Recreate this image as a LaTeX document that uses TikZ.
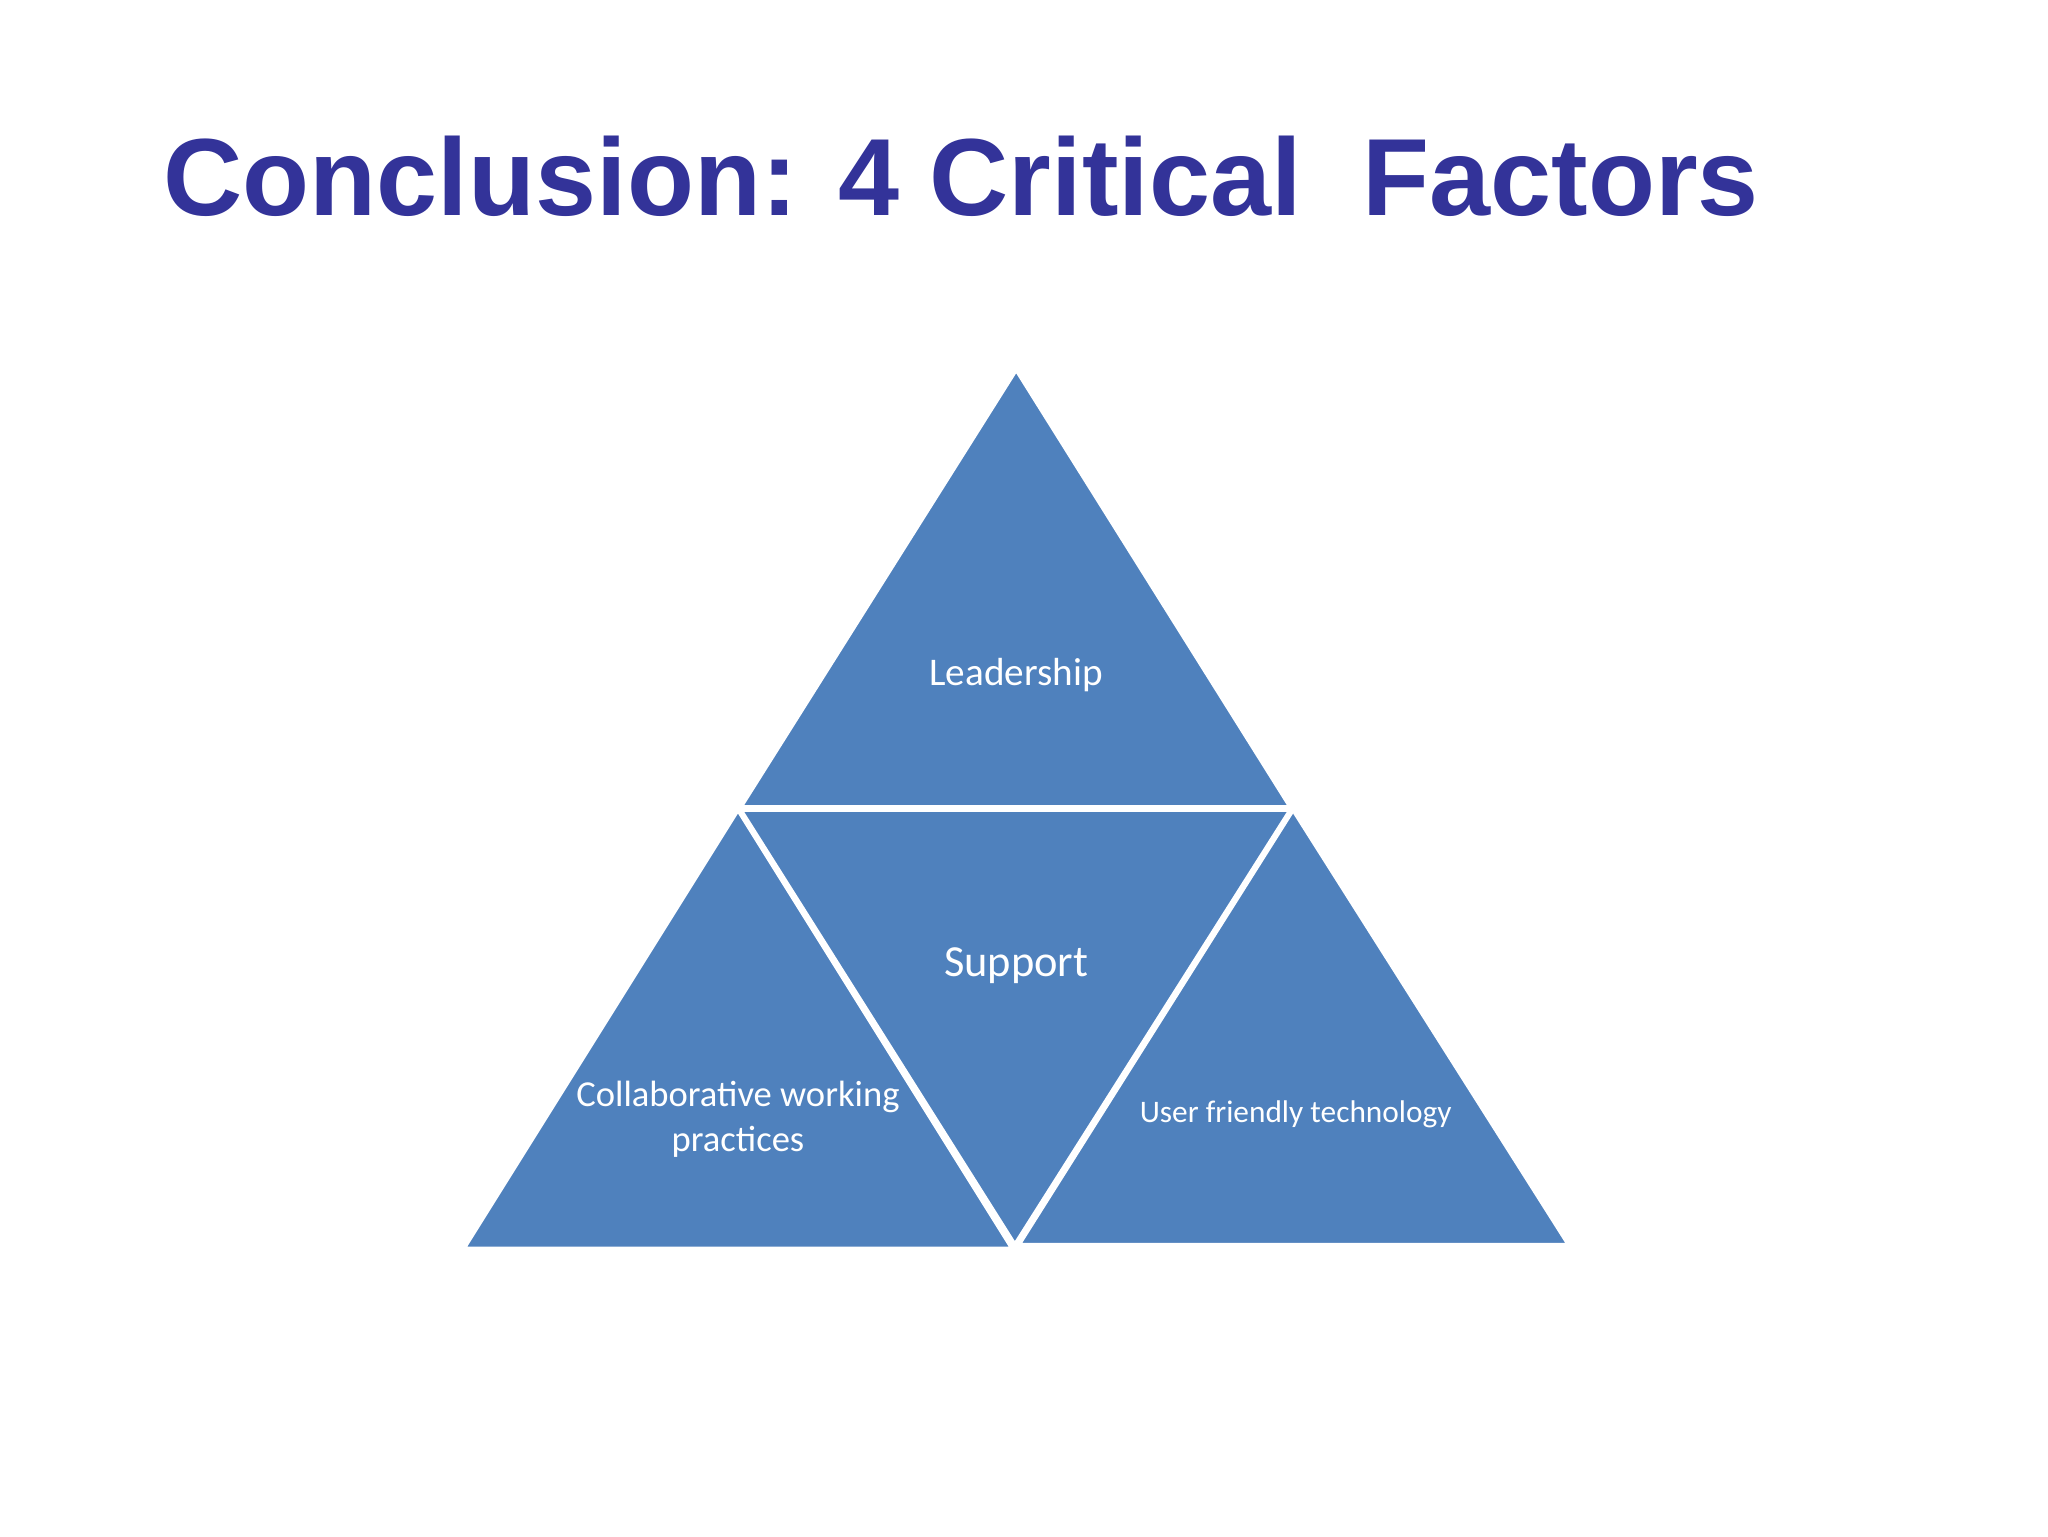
\documentclass[tikz,border=0pt]{standalone}
\usepackage{fontspec}
\setmainfont{Carlito}
\newfontfamily\titlefont{Liberation Sans}
\definecolor{tri}{HTML}{4F81BD}
\definecolor{ttl}{HTML}{333399}
\begin{document}
\begin{tikzpicture}[x=1pt,y=-1pt,
  tri/.style={fill=tri,draw=white,line width=3pt,line join=miter},
  lab/.style={text=white,align=center}]
\useasboundingbox (0,0) rectangle (1568,1176);
\fill[white] (0,0) rectangle (1568,1176);
\node[anchor=base,text=ttl,font=\titlefont\bfseries\fontsize{84}{90}\selectfont] (title) at (736,165) {Conclusion: 4 Critical\ \ Factors};
\draw[tri] (778,283) -- (988,618) -- (567,618) -- cycle;
\draw[tri] (565,620) -- (775,956) -- (355,956) -- cycle;
\draw[tri] (567,620) -- (988,620) -- (777,953) -- cycle;
\draw[tri] (990,620) -- (1201,953) -- (780,953) -- cycle;
\node[lab,font=\fontsize{30}{34}\selectfont] (l) at (778,517) {Leadership};
\node[lab,font=\fontsize{34}{38}\selectfont] (s) at (778,739) {Support};
\node[lab,font=\fontsize{28}{34}\selectfont] (c) at (565,857) {Collaborative working\\practices};
\node[lab,font=\fontsize{24}{28}\selectfont] (u) at (992,853) {User friendly technology};
\end{tikzpicture}
\end{document}
